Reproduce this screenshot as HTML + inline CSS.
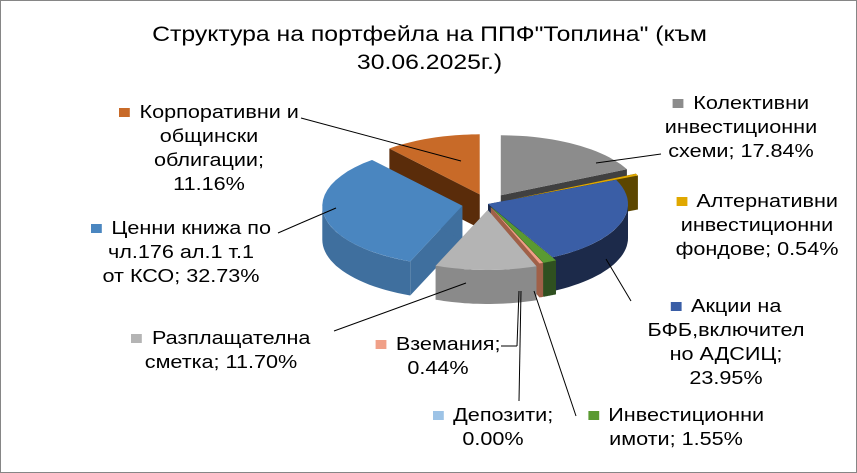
<!DOCTYPE html>
<html><head><meta charset="utf-8"><style>
body{margin:0;background:#fff}
#c{position:relative;width:855px;height:471px;border:1px solid #868686;background:#fff;font-family:"Liberation Sans",sans-serif;overflow:hidden}
.t{position:absolute;color:#000;font-size:18px;line-height:24px;text-align:center;white-space:nowrap;transform:scaleX(1.2);transform-origin:center}
.m{display:inline-block;width:9px;height:9px;margin-right:8px;vertical-align:1px}
</style></head><body>
<div id="c">
<svg id="s" width="857" height="473" style="position:absolute;left:0;top:0"></svg>
<div class="t" style="left:0;width:857px;top:20px;font-size:21px;line-height:28px;transform:scaleX(1.18)">Структура на портфейла на ППФ"Топлина" (към<br>30.06.2025г.)</div>
<div class="t" style="left:108px;width:200px;top:99px"><span class="m" style="background:#c86a28"></span>Корпоративни и<br>общински<br>облигации;<br>11.16%</div>
<div class="t" style="left:640px;width:200px;top:90px"><span class="m" style="background:#8c8c8c"></span>Колективни<br>инвестиционни<br>схеми; 17.84%</div>
<div class="t" style="left:656px;width:200px;top:188px"><span class="m" style="background:#e0a800"></span>Алтернативни<br>инвестиционни<br>фондове; 0.54%</div>
<div class="t" style="left:80px;width:200px;top:215px"><span class="m" style="background:#4a86c0"></span>Ценни книжа по<br>чл.176 ал.1 т.1<br>от КСО; 32.73%</div>
<div class="t" style="left:635px;width:180px;top:293px"><span class="m" style="background:#3a5ea6"></span>Акции на<br>БФБ,включител<br>но АДСИЦ;<br>23.95%</div>
<div class="t" style="left:120px;width:200px;top:325px"><span class="m" style="background:#b4b4b4"></span>Разплащателна<br>сметка; 11.70%</div>
<div class="t" style="left:362px;width:150px;top:331px"><span class="m" style="background:#f0a088"></span>Вземания;<br>0.44%</div>
<div class="t" style="left:417px;width:150px;top:402px"><span class="m" style="background:#9dc3e6"></span>Депозити;<br>0.00%</div>
<div class="t" style="left:575px;width:200px;top:402px"><span class="m" style="background:#5a9a32"></span>Инвестиционни<br>имоти; 1.55%</div>
</div>
<script>
const categories=["Колективни инвестиционни схеми","Алтернативни инвестиционни фондове","Акции на БФБ","Инвестиционни имоти","Депозити","Вземания","Разплащателна сметка","Ценни книжа","Корпоративни облигации"];
const values=[17.84,0.54,23.95,1.55,0.00,0.44,11.70,32.73,11.16];
const explode=[24,24,0,8,8,8,14,26,24];
const topCol=["#8c8c8c","#e0a800","#3a5ea6","#5a9a32","#9dc3e6","#f0a088","#b4b4b4","#4a86c0","#c86a28"];
const sideCol=["#404040","#5c4600","#1c2a4a","#2f5020","#6a8fb0","#a06048","#8a8a8a","#3f6f9e","#5a2c0a"];
const NS="http://www.w3.org/2000/svg",svg=document.getElementById('s');
const cx=487,cy=203,rx=140,ry=60,dep=34;
const total=values.reduce((a,b)=>a+b,0);
function P(x0,y0,t,dy){return [x0+rx*Math.sin(t),y0-ry*Math.cos(t)+(dy||0)];}
function mk(d,f,name){const p=document.createElementNS(NS,'path');p.setAttribute('d',d);p.setAttribute('fill',f);


svg.appendChild(p);}
let a=0;const sl=[];
values.forEach((v,i)=>{const a0=a,a1=a+v/total*2*Math.PI;a=a1;const m=(a0+a1)/2;
sl.push({i,a0,a1,m,ox:cx+explode[i]*Math.sin(m),oy:cy-explode[i]*(ry/rx)*Math.cos(m)});});
const order=sl.slice().sort((p,q)=>(-Math.cos(p.m))-(-Math.cos(q.m)));
function arc(s,b0,b1,dy){let d='';const n=24;for(let k=0;k<=n;k++){const t=b0+(b1-b0)*k/n;const q=P(s.ox,s.oy,t,dy);d+=(k?'L':'M')+q[0].toFixed(1)+','+q[1].toFixed(1);}return d;}
order.forEach(s=>{
 if(s.a1-s.a0<1e-6)return;
 const nm='slice-'+s.i;
 [s.a0,s.a1].forEach(t=>{const q=P(s.ox,s.oy,t);
 mk(`M${s.ox},${s.oy}L${q[0]},${q[1]}L${q[0]},${q[1]+dep}L${s.ox},${s.oy+dep}Z`,sideCol[s.i],nm+'-side');});
 const b0=Math.max(s.a0,Math.PI/2),b1=Math.min(s.a1,Math.PI*1.5);
 if(b1>b0){const top=arc(s,b0,b1,0);const bot=arc(s,b1,b0,dep).replace('M','L');
 mk(top+bot+'Z',sideCol[s.i],nm+'-wall');}
 mk(`M${s.ox},${s.oy}`+arc(s,s.a0,s.a1,0).replace('M','L')+'Z',topCol[s.i],nm+'-top');
});
const lines=[[300,117,460,160],[660,153,595,162],[277,232,300,222],[300,222,335,207],[630,300,605,258],[333,330,465,282],[500,345,516,345],[516,345,518,290],[518,400,520,290],[575,415,533,290]];
lines.forEach(l=>{const e=document.createElementNS(NS,'line');e.setAttribute('x1',l[0]);e.setAttribute('y1',l[1]);e.setAttribute('x2',l[2]);e.setAttribute('y2',l[3]);e.setAttribute('stroke','#000');e.setAttribute('stroke-width','1');


svg.appendChild(e);});
</script>
</body></html>
